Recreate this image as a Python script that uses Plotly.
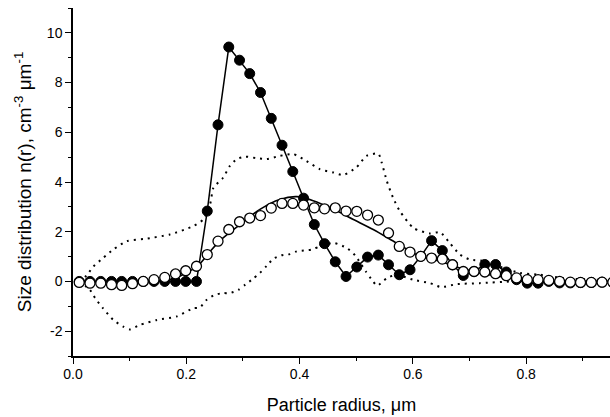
import plotly.graph_objects as go

# radius grid shared by the two marker series (µm)
radius = [0.011, 0.030, 0.049, 0.068, 0.086, 0.105, 0.124, 0.143, 0.162, 0.181,
          0.199, 0.218, 0.237, 0.256, 0.275, 0.294, 0.312, 0.331, 0.350, 0.369,
          0.388, 0.407, 0.426, 0.444, 0.463, 0.482, 0.501, 0.520, 0.539, 0.557,
          0.576, 0.595, 0.614, 0.633, 0.652, 0.670, 0.689, 0.708, 0.727, 0.746,
          0.765, 0.783, 0.802, 0.821, 0.840, 0.859, 0.878, 0.896, 0.915, 0.934, 0.953]

filled_n = [0, 0, 0, 0, 0, 0, 0, 0, 0, 0,
            0, 0, 2.83, 6.30, 9.43, 8.90, 8.36, 7.60, 6.56, 5.48,
            4.42, 3.35, 2.29, 1.52, 0.79, 0.20, 0.58, 0.98, 1.06, 0.67,
            0.27, 0.47, 1.01, 1.64, 1.24, 0.67, 0.24, 0.40, 0.68, 0.68,
            0.38, 0.07, -0.07, -0.07, 0.0, -0.06, -0.06, -0.05, -0.04, -0.03, -0.03]

open_n = [-0.04, -0.07, -0.07, -0.13, -0.16, -0.09, 0.0, 0.07, 0.16, 0.30,
          0.43, 0.61, 1.08, 1.62, 2.09, 2.40, 2.55, 2.65, 2.95, 3.14,
          3.14, 3.07, 2.96, 2.92, 2.96, 2.83, 2.82, 2.67, 2.47, 1.95,
          1.41, 1.18, 1.01, 0.94, 0.90, 0.67, 0.40, 0.40, 0.38, 0.31,
          0.23, 0.14, 0.07, 0.07, 0.04, 0.0, -0.03, -0.04, -0.04, -0.03, -0.03]

# smooth solid curve
solid_r = [0.011, 0.05, 0.10, 0.15, 0.18, 0.20, 0.22, 0.24, 0.26, 0.295, 0.33,
           0.365, 0.395, 0.424, 0.46, 0.495, 0.53, 0.571, 0.613, 0.648, 0.683,
           0.718, 0.777, 0.836, 0.90, 0.953]
solid_n = [0.0, 0.0, 0.0, 0.02, 0.13, 0.35, 0.62, 1.15, 1.65, 2.29, 2.90,
           3.30, 3.41, 3.25, 2.90, 2.49, 2.09, 1.55, 1.01, 0.81, 0.54,
           0.34, 0.13, 0.0, -0.03, -0.03]

# dotted upper bound
upper_r = [0.011, 0.024, 0.036, 0.053, 0.071, 0.095, 0.13, 0.171, 0.212, 0.23,
           0.242, 0.248, 0.265, 0.277, 0.289, 0.304, 0.324, 0.342, 0.365, 0.389,
           0.412, 0.436, 0.46, 0.477, 0.50, 0.518, 0.539, 0.545, 0.554, 0.565,
           0.577, 0.601, 0.63, 0.648, 0.665, 0.683, 0.701, 0.73, 0.76, 0.789,
           0.824, 0.866, 0.924, 0.953]
upper_n = [0.0, 0.24, 0.60, 0.94, 1.28, 1.62, 1.72, 1.89, 2.22, 2.49,
           3.10, 3.77, 4.17, 4.65, 4.92, 5.02, 4.96, 4.92, 5.05, 5.12,
           4.85, 4.51, 4.38, 4.28, 4.58, 5.05, 5.14, 4.78, 4.04, 3.37,
           2.83, 2.15, 1.93, 1.98, 1.55, 1.08, 0.88, 0.81, 0.54, 0.34,
           0.27, 0.13, 0.07, 0.05]

# dotted lower bound
lower_r = [0.011, 0.030, 0.039, 0.053, 0.071, 0.089, 0.10, 0.118, 0.148, 0.183,
           0.212, 0.224, 0.236, 0.25, 0.265, 0.277, 0.292, 0.304, 0.318, 0.33,
           0.342, 0.354, 0.368, 0.383, 0.395, 0.41, 0.421, 0.436, 0.46, 0.483,
           0.498, 0.517, 0.526, 0.537, 0.554, 0.571, 0.60, 0.63, 0.65, 0.677,
           0.718, 0.777, 0.85, 0.953]
lower_n = [0.0, -0.34, -0.67, -1.08, -1.55, -1.82, -1.93, -1.75, -1.55, -1.41,
           -1.08, -1.05, -0.74, -0.54, -0.47, -0.47, -0.34, -0.13, 0.11, 0.34,
           0.63, 0.92, 1.05, 1.10, 1.21, 1.25, 1.28, 1.41, 1.55, 1.35,
           1.05, 0.40, 0.11, -0.17, 0.13, 0.27, 0.07, -0.07, -0.23, -0.11,
           -0.07, 0.0, 0.0, -0.07]

x_ticks = [0.0, 0.2, 0.4, 0.6, 0.8]
y_ticks = [-2, 0, 2, 4, 6, 8, 10]

fig = go.Figure()
dot = dict(color="black", width=2, dash="2px,5px", shape="spline", smoothing=0.6)
fig.add_trace(go.Scatter(x=upper_r, y=upper_n, mode="lines", line=dot))
fig.add_trace(go.Scatter(x=lower_r, y=lower_n, mode="lines", line=dot))
fig.add_trace(go.Scatter(x=solid_r, y=solid_n, mode="lines",
                         line=dict(color="black", width=1.6, shape="spline", smoothing=0.8)))
fig.add_trace(go.Scatter(x=radius, y=filled_n, mode="lines+markers",
                         line=dict(color="black", width=1.5),
                         marker=dict(symbol="circle", size=10, color="black",
                                     line=dict(color="black", width=1))))
fig.add_trace(go.Scatter(x=radius, y=open_n, mode="markers",
                         marker=dict(symbol="circle", size=10, color="white",
                                     line=dict(color="black", width=1.3))))

axis_font = dict(family="Liberation Sans, Arial, sans-serif", size=14, color="black")
fig.update_layout(
    width=610, height=417,
    margin=dict(l=73, r=0, t=8, b=61),
    paper_bgcolor="white", plot_bgcolor="white",
    showlegend=False,
    font=axis_font,
    xaxis=dict(range=[0, 0.948], tickvals=x_ticks, ticktext=[f"{v:.1f}" for v in x_ticks],
               showgrid=False, zeroline=False, showline=True, linecolor="black", linewidth=1.5,
               ticks="outside", ticklen=6, tickwidth=1.3, tickcolor="black",
               minor=dict(dtick=0.1, tick0=0, ticks="outside", ticklen=3.5, tickwidth=1.2, tickcolor="black"),
               ticklabelstandoff=-2,
               title=dict(text="Particle radius, μm", font=dict(size=18), standoff=18),
               tickfont=dict(size=14)),
    yaxis=dict(range=[-3, 11], tickvals=y_ticks, ticktext=[str(v) for v in y_ticks],
               showgrid=False, zeroline=False, showline=True, linecolor="black", linewidth=1.5,
               ticks="outside", ticklen=6, tickwidth=1.3, tickcolor="black",
               minor=dict(dtick=1, tick0=0, ticks="outside", ticklen=3.5, tickwidth=1.2, tickcolor="black"),
               title=dict(text="Size distribution n(r), cm<sup>-3</sup> μm<sup>-1</sup>",
                          font=dict(size=19), standoff=10),
               tickfont=dict(size=14)),
)
fig.write_html("out.html")
